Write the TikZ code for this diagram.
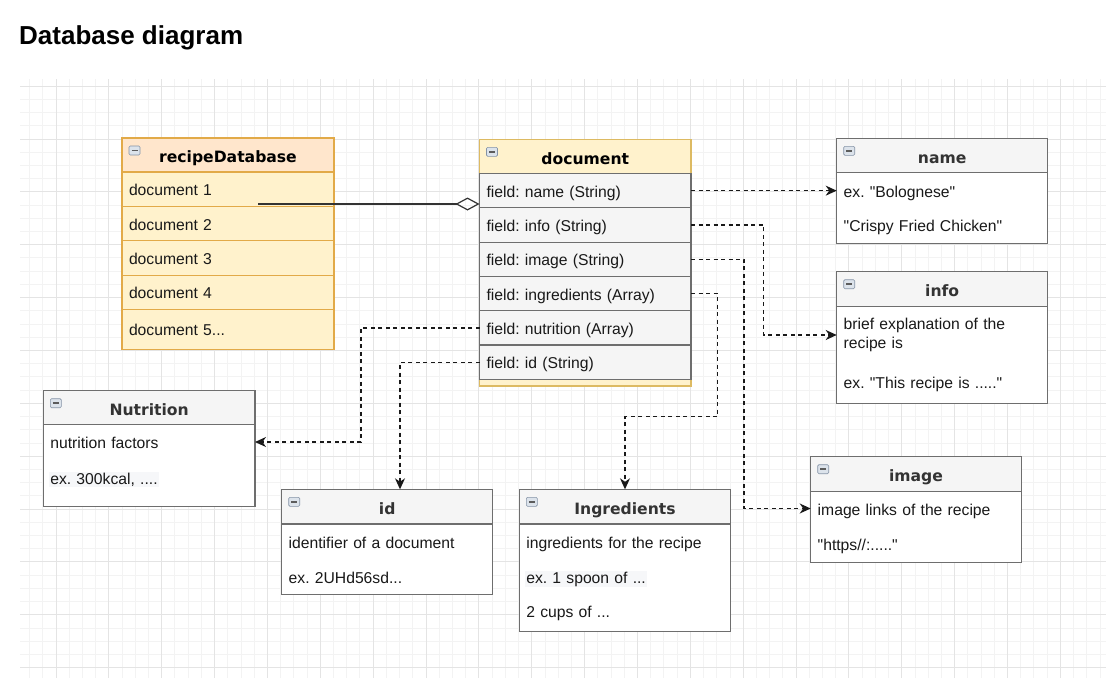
\documentclass[tikz,border=0pt]{standalone}
\usepackage{fontspec}
\setmainfont{Liberation Sans}[Ligatures=TeXOff]
\newfontfamily\headfont{DejaVu Sans}
\usepackage{tikz}
\usetikzlibrary{arrows.meta,positioning}
\definecolor{peach}{HTML}{FFE6CC}
\definecolor{cream}{HTML}{FFF2CC}
\definecolor{amber}{HTML}{E2AA48}
\definecolor{straw}{HTML}{DDBA62}
\definecolor{panel}{HTML}{F5F5F5}
\definecolor{edge}{HTML}{6E6E6E}
\definecolor{ink}{HTML}{333333}
\definecolor{gridlo}{HTML}{F3F3F3}
\definecolor{gridhi}{HTML}{E4E4E4}
\definecolor{hilite}{HTML}{F6F7F9}
\definecolor{iconfill}{HTML}{DCE3EB}
\definecolor{iconedge}{HTML}{8593A6}
\setlength{\fboxsep}{1pt}
\frenchspacing
\tikzset{
  minorline/.style={draw=gridlo, line width=0.9pt},
  majorline/.style={draw=gridhi, line width=0.9pt},
  head/.style={anchor=north west, draw=edge, fill=panel, line width=1.1pt, outer sep=0pt,
    minimum width=211pt, minimum height=34.4pt, inner sep=0pt, text=ink,
    text height=15.5pt, text depth=0pt,
    font=\headfont\bfseries\fontsize{15.6}{19}\selectfont},
  body/.style={anchor=north west, draw=edge, fill=white, line width=1.1pt, outer sep=0pt,
    minimum width=211pt, inner sep=0pt},
  row/.style={draw=edge, fill=panel, line width=1.1pt, outer sep=0pt,
    minimum width=211.5pt, minimum height=34.3pt, text width=197.5pt, inner xsep=7pt,
    inner ysep=0pt, text height=13pt, text depth=0pt, align=left, text=black!90},
  rdbrow/.style={row, fill=cream, draw=amber, minimum width=212pt, text width=198pt,
    minimum height=34.4pt},
  entry/.style={anchor=west, text width=197pt, inner xsep=7pt, inner ysep=0pt,
    outer sep=0pt, align=left, text=black!90},
  oneline/.style={text height=13pt, text depth=0pt},
  link/.style={draw=black!90, line width=1.3pt, dash pattern=on 4pt off 3.5pt,
    -{Stealth[length=11pt,width=10pt,inset=3.5pt]}},
  agg/.style={draw=ink, line width=1.2pt, -{Diamond[open,length=24pt,width=13pt]}},
  iconbox/.style={draw=iconedge, fill=iconfill, line width=0.6pt, rounded corners=1.2pt},
  iconbar/.style={draw=ink!80, line width=1.6pt},
}
\newcommand{\minusbox}[1]{%
  \draw[iconbox] ([shift={(7,8)}]#1.north west) rectangle ++(11,9);
  \draw[iconbar] ([shift={(9.5,12.5)}]#1.north west) -- ++(6,0);}

\begin{document}
\begin{tikzpicture}[x=1pt, y=-1pt, font=\fontsize{15.7}{19}\selectfont]
        \fill[white] (0,0) rectangle (1108,678);
        \useasboundingbox (0,0) rectangle (1108,678);

        % background grid
        \begin{scope}
          \clip (20,79) rectangle (1106,678);
          \foreach \k in {-3,...,79}
            \draw[minorline] ({56+13.215*\k},79) -- ++(0,599);
          \foreach \k in {-5,...,41}
            \draw[minorline] (20,{139+13.215*\k}) -- ++(1086,0);
          \foreach \k in {-4,0,...,76}
            \draw[majorline] ({56+13.215*\k},79) -- ++(0,599);
          \foreach \k in {-4,0,...,40}
            \draw[majorline] (20,{139+13.215*\k}) -- ++(1086,0);
        \end{scope}

        \node[anchor=base west, inner sep=0pt, font=\bfseries\fontsize{26}{30}\selectfont] (title) at (19,44.5) {Database diagram};

        % recipeDatabase
        \node[head, fill=peach, draw=amber, minimum width=212pt, minimum height=34pt, text=black] (rdbHead) at (122,138) {recipeDatabase};
        \node[rdbrow, anchor=north west] (rdbR1) at (rdbHead.south west) {document 1};
        \node[rdbrow, below=0pt of rdbR1] (rdbR2) {document 2};
        \node[rdbrow, below=0pt of rdbR2] (rdbR3) {document 3};
        \node[rdbrow, below=0pt of rdbR3] (rdbR4) {document 4};
        \node[rdbrow, below=0pt of rdbR4, minimum height=39.7pt] (rdbR5) {document 5...};
        \minusbox{rdbHead}

        % document
        \node[body, fill=cream, draw=straw, minimum width=211.5pt, minimum height=246.7pt] (docBox) at (479.5,139.3) {};
        \node[head, fill=cream, draw=straw, minimum width=211.5pt, minimum height=34.2pt, text=black] (docHead) at (479.5,139.3) {document};
        \node[row, anchor=north west] (docR1) at (docHead.south west) {field: name (String)};
        \node[row, below=0pt of docR1] (docR2) {field: info (String)};
        \node[row, below=0pt of docR2] (docR3) {field: image (String)};
        \node[row, below=0pt of docR3] (docR4) {field: ingredients (Array)};
        \node[row, below=0pt of docR4] (docR5) {field: nutrition (Array)};
        \node[row, below=0pt of docR5] (docR6) {field: id (String)};
        \minusbox{docHead}

        % name
        \node[head] (nameHead) at (836.7,138.3) {name};
        \node[body, minimum height=70.6pt] (nameBody) at (nameHead.south west) {};
        \node[entry, oneline] (nameT1) at (836.7,191) {ex. "Bolognese"};
        \node[entry, oneline] (nameT2) at (836.7,225) {"Crispy Fried Chicken"};
        \minusbox{nameHead}

        % info
        \node[head] (infoHead) at (836.7,271.7) {info};
        \node[body, minimum height=97.6pt] (infoBody) at (infoHead.south west) {};
        \node[entry] (infoT1) at (836.7,335) {brief explanation of the\\recipe is};
        \node[entry, oneline] (infoT2) at (836.7,381.7) {ex. "This recipe is ....."};
        \minusbox{infoHead}

        % image
        \node[head, minimum width=210.5pt] (imgHead) at (810.7,456.7) {image};
        \node[body, minimum width=210.5pt, minimum height=71pt] (imgBody) at (imgHead.south west) {};
        \node[entry, oneline] (imgT1) at (810.7,508.5) {image links of the recipe};
        \node[entry, oneline] (imgT2) at (810.7,544) {"https//:....."};
        \minusbox{imgHead}

        % Nutrition
        \node[head, minimum width=211.7pt, minimum height=33.6pt] (nutHead) at (43.3,390.7) {Nutrition};
        \node[body, minimum width=211.7pt, minimum height=82.4pt] (nutBody) at (nutHead.south west) {};
        \node[entry, oneline, text width=197.7pt] (nutT1) at (43.3,442) {nutrition factors};
        \node[entry, oneline] (nutT2) at (43.3,477.5) {\hspace*{-1pt}\colorbox{hilite}{ex. 300kcal, ....}};
        \minusbox{nutHead}

        % id
        \node[head, minimum height=34.7pt] (idHead) at (281.7,489.3) {id};
        \node[body, minimum height=70.3pt] (idBody) at (idHead.south west) {};
        \node[entry, oneline] (idT1) at (281.7,542) {identifier of a document};
        \node[entry, oneline] (idT2) at (281.7,576.7) {ex. 2UHd56sd...};
        \minusbox{idHead}

        % Ingredients
        \node[head, minimum width=211.4pt, minimum height=34.7pt] (ingHead) at (519.3,489.3) {Ingredients};
        \node[body, minimum width=211.4pt, minimum height=107.7pt] (ingBody) at (ingHead.south west) {};
        \node[entry, oneline] (ingT1) at (519.3,542.3) {ingredients for the recipe};
        \node[entry, oneline] (ingT2) at (519.3,576.7) {\hspace*{-1pt}\colorbox{hilite}{ex. 1 spoon of ...}};
        \node[entry, oneline] (ingT3) at (519.3,610.7) {2 cups of ...};
        \minusbox{ingHead}

        % connectors
        \coordinate (aggFrom) at (258,204);
        \draw[agg] (aggFrom) -- (aggFrom -| docR1.west);
        \draw[link] (docR1.east) -- (docR1.east -| nameT1.west);
        \draw[link] (docR2.east) -- ++(72.5,0) |- (infoT1.west);
        \draw[link] (docR3.east) -- ++(53,0) |- (imgT1.west);
        \draw[link] (docR4.east) -- ++(26.5,0) |- ([yshift=72.6pt]ingHead.north) -- (ingHead.north);
        \draw[link] (docR5.west) -- ++(-118.5,0) |- (nutT1.east);
        \draw[link] (docR6.west) -| ([xshift=12.8pt]idHead.north);
      \end{tikzpicture}
\end{document}
